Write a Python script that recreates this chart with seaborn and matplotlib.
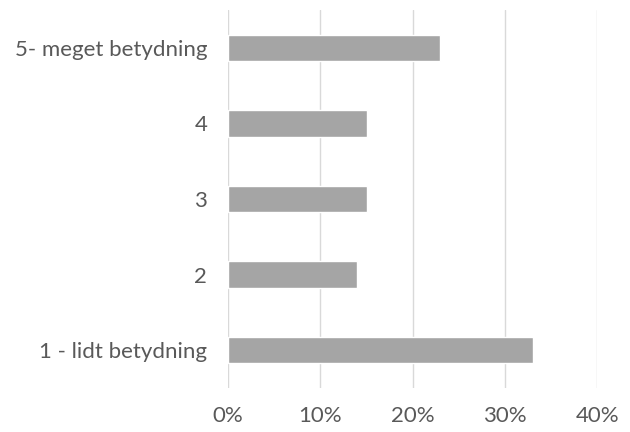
import matplotlib
matplotlib.use("Agg")
import matplotlib.pyplot as plt
import seaborn as sns
import pandas as pd
from matplotlib.ticker import PercentFormatter

categories = ["5- meget betydning", "4", "3", "2", "1 - lidt betydning"]
values = [23, 15, 15, 14, 33]
x_ticks = [0, 10, 20, 30, 40]

sns.set_theme(style="white")
plt.rcParams['font.family'] = ['Lato', 'DejaVu Sans']

df = pd.DataFrame({"cat": categories, "val": values})

fig = plt.figure(figsize=(6.3, 4.32), dpi=100)
ax = fig.add_axes([0.362, 0.102, 0.586, 0.875])
sns.barplot(data=df, y="cat", x="val", order=categories, color="#A5A5A5",
            width=0.35, ax=ax, saturation=1)
ax.set_xlim(0, 40)
ax.set_ylim(4.5, -0.5)
ax.set_xticks(x_ticks)
ax.xaxis.set_major_formatter(PercentFormatter(decimals=0))
ax.grid(axis="x", color="#D9D9D9", linewidth=1)
ax.set_axisbelow(True)
for s in ax.spines.values():
    s.set_visible(False)
ax.set_xlabel("")
ax.set_ylabel("")
ax.tick_params(axis="both", length=0, labelsize=16, colors="#595959")
ax.tick_params(axis="x", pad=13)
ax.tick_params(axis="y", pad=15)
fig.savefig("out.png", dpi=100)
